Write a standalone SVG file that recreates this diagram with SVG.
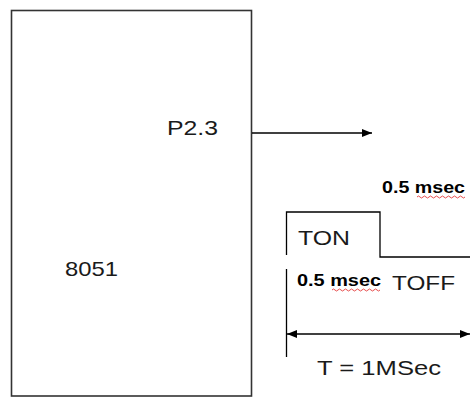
<svg xmlns="http://www.w3.org/2000/svg" width="470" height="397" viewBox="0 0 470 397">
<style>
.t{font-family:"Liberation Sans",Arial,sans-serif;font-size:21px;fill:#1a1a1a}
.b{font-family:"Liberation Sans",Arial,sans-serif;font-size:16px;font-weight:bold;fill:#000}
.ln{stroke:#000;stroke-width:1.3;fill:none}
.sq{stroke:#e02020;stroke-width:0.8;fill:none}
</style>
<defs>
<marker id="ah" viewBox="0 0 10 8" refX="10" refY="4" markerWidth="10" markerHeight="8" markerUnits="userSpaceOnUse" orient="auto-start-reverse">
<path d="M0,0 L10,4 L0,8 Z" fill="#000"/>
</marker>
</defs>
<g id="mcu">
<rect x="11.5" y="10.5" width="240" height="385.5" fill="#fff" stroke="#333" stroke-width="1.6"/>
<text class="t" x="167" y="135" textLength="51" lengthAdjust="spacingAndGlyphs">P2.3</text>
<text class="t" x="65" y="276" textLength="53" lengthAdjust="spacingAndGlyphs">8051</text>
</g>
<g id="connectors">
<line class="ln" x1="252" y1="133" x2="372" y2="133" marker-end="url(#ah)"/>
<line class="ln" x1="287" y1="334" x2="470" y2="334" marker-start="url(#ah)" marker-end="url(#ah)"/>
</g>
<g id="waveform">
<polyline class="ln" points="286.5,255 286.5,212 380,212 380,257 470,257"/>
<line class="ln" x1="286.5" y1="269" x2="286.5" y2="357"/>
<text class="t" x="298" y="245" textLength="52" lengthAdjust="spacingAndGlyphs">TON</text>
<text class="b" x="382" y="193" textLength="83" lengthAdjust="spacingAndGlyphs">0.5 msec</text>
<path class="sq" d="M417,197 q1.5,-2 3,0 t3,0 t3,0 t3,0 t3,0 t3,0 t3,0 t3,0 t3,0 t3,0 t3,0 t3,0 t3,0 t3,0 t3,0 t3,0"/>
<text class="b" x="297" y="286" textLength="84" lengthAdjust="spacingAndGlyphs">0.5 msec</text>
<path class="sq" d="M332,290 q1.5,-2 3,0 t3,0 t3,0 t3,0 t3,0 t3,0 t3,0 t3,0 t3,0 t3,0 t3,0 t3,0 t3,0 t3,0 t3,0 t3,0"/>
<text class="t" x="392" y="290" textLength="63" lengthAdjust="spacingAndGlyphs">TOFF</text>
<text class="t" x="317" y="375" textLength="124" lengthAdjust="spacingAndGlyphs">T = 1MSec</text>
</g>
</svg>
